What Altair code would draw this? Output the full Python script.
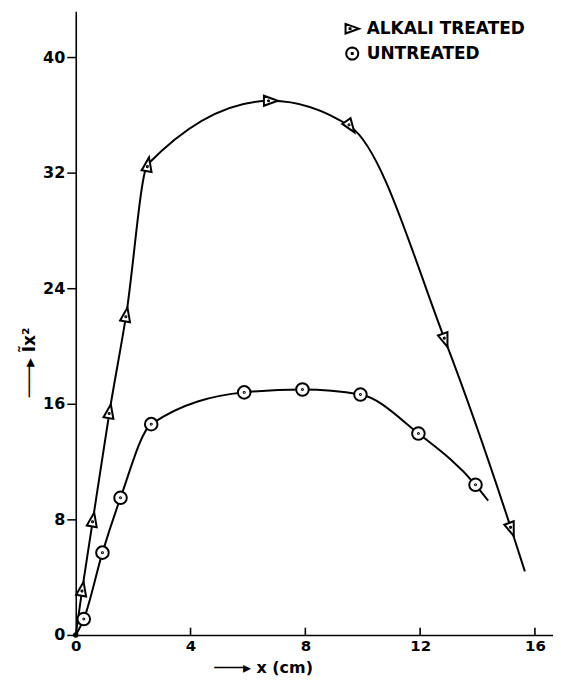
import math
import altair as alt
import pandas as pd

# ---- data ----
series_names = ["ALKALI TREATED", "UNTREATED"]

alkali_x = [0.23, 0.6, 1.18, 1.76, 2.51, 6.8, 9.57, 12.87, 15.18]
alkali_y = [3.2, 8.0, 15.5, 22.2, 32.6, 37.0, 35.2, 20.4, 7.3]

untreated_x = [0.28, 0.93, 1.56, 2.63, 5.87, 7.9, 9.92, 11.94, 13.93]
untreated_y = [1.1, 5.7, 9.5, 14.6, 16.8, 17.0, 16.65, 13.95, 10.4]

# where the drawn curves start and stop (no marker there)
alkali_curve_ends_x = [0.0, 15.65]
alkali_curve_ends_y = [0.0, 4.4]
untreated_curve_ends_x = [0.0, 14.37]
untreated_curve_ends_y = [0.0, 9.3]

x_ticks = [0, 4, 8, 12, 16]
y_ticks = [0, 8, 16, 24, 32, 40]

# ---- tables ----
pts = pd.DataFrame(
    {"x": alkali_x + untreated_x,
     "y": alkali_y + untreated_y,
     "series": [series_names[0]] * len(alkali_x) + [series_names[1]] * len(untreated_x)}
)

line_rows = []
for sx, sy, ex, ey, name in [
    (alkali_x, alkali_y, alkali_curve_ends_x, alkali_curve_ends_y, series_names[0]),
    (untreated_x, untreated_y, untreated_curve_ends_x, untreated_curve_ends_y, series_names[1]),
]:
    xs = [ex[0]] + sx + [ex[1]]
    ys = [ey[0]] + sy + [ey[1]]
    for a, b in zip(xs, ys):
        line_rows.append({"x": a, "y": b, "series": name})
lines_df = pd.DataFrame(line_rows)

tick_df = pd.DataFrame({"t": x_ticks[1:]})
origin_df = pd.DataFrame({"x": [alkali_curve_ends_x[0]], "y": [alkali_curve_ends_y[0]]})

# ---- styling ----
FONT = "DejaVu Sans"
tri_path = ("M -1 -0.72 L 1 0 L -1 0.72 Z "
            "M -0.42 0 A 0.08 0.08 0 1 0 -0.26 0 A 0.08 0.08 0 1 0 -0.42 0")
circ_path = ("M -0.9 0 A 0.9 0.9 0 1 0 0.9 0 A 0.9 0.9 0 1 0 -0.9 0 "
             "M -0.07 0 A 0.07 0.07 0 1 0 0.07 0 A 0.07 0.07 0 1 0 -0.07 0")

# legend symbols drawn with straight segments only
def _poly(r, n):
    p = [(r * math.cos(2 * math.pi * k / n), r * math.sin(2 * math.pi * k / n)) for k in range(n)]
    return "M " + " L ".join(f"{a:.3f} {b:.3f}" for a, b in p) + " Z"

legend_tri = "M -1 -0.72 L 1 0 L -1 0.72 Z M -0.4 -0.07 L -0.26 -0.07 L -0.26 0.07 L -0.4 0.07 Z"
legend_circ = _poly(0.9, 28) + " M -0.07 -0.07 L 0.07 -0.07 L 0.07 0.07 L -0.07 0.07 Z"

xscale = alt.Scale(domain=[0, 16.63], nice=False, zero=False)
yscale = alt.Scale(domain=[0, 43.2], nice=False, zero=False)

xaxis = alt.Axis(
    values=x_ticks, ticks=False, grid=False, labelFlush=False,
    domainColor="black", domainWidth=1.6,
    labelFont=FONT, labelFontSize=15, labelFontWeight="bold", labelColor="black",
    labelPadding=4,
    title="───▸ x (cm)", titleFont=FONT, titleFontSize=16, titleFontWeight="bold",
    titleColor="black", titleX=188, titleY=33, titleAlign="center",
    titleBaseline="middle", titleAnchor="start",
)
yaxis = alt.Axis(
    values=y_ticks, grid=False, tickSize=9, tickColor="black", tickWidth=1.5,
    domainColor="black", domainWidth=1.6,
    labelFont=FONT, labelFontSize=16, labelFontWeight="bold", labelColor="black",
    labelPadding=2,
    title="───▸ Ĩx²", titleFont=FONT, titleFontSize=17, titleFontWeight="bold",
    titleColor="black", titleAngle=270, titleX=-46, titleY=352,
    titleAlign="center", titleBaseline="middle", titleAnchor="start",
)

lines = alt.Chart(lines_df).mark_line(
    interpolate="monotone", color="black", strokeWidth=2
).encode(
    x=alt.X("x:Q", scale=xscale, axis=xaxis),
    y=alt.Y("y:Q", scale=yscale, axis=yaxis),
    detail="series:N",
)

# invisible layer that only carries the legend
legend_layer = alt.Chart(pts).mark_point(
    filled=False, stroke="black", strokeWidth=2, size=180, opacity=0,
).encode(
    x=alt.X("x:Q", scale=xscale),
    y=alt.Y("y:Q", scale=yscale),
    shape=alt.Shape(
        "series:N",
        scale=alt.Scale(domain=series_names, range=[legend_tri, legend_circ]),
        legend=alt.Legend(
            title=None, orient="none", legendX=269, legendY=9, padding=0,
            labelFont=FONT, labelFontSize=17, labelFontWeight="bold", labelColor="black",
            labelOffset=6, rowPadding=5, symbolSize=180,
            symbolFillColor="white", symbolStrokeColor="black", symbolStrokeWidth=2,
            symbolOpacity=1,
        ),
    ),
)

alkali_pts = alt.Chart(pts).transform_filter(
    alt.datum.series == series_names[0]
).transform_calculate(
    ang="datum.x < 4 ? 280 : (datum.x < 8 ? 0 : (datum.x < 11 ? 55 : 70))"
).mark_point(
    shape=tri_path, filled=True, fill="white", stroke="black", strokeWidth=2,
    size=196, opacity=1,
).encode(
    x=alt.X("x:Q", scale=xscale),
    y=alt.Y("y:Q", scale=yscale),
    angle=alt.Angle("ang:Q", scale=None),
)

untreated_pts = alt.Chart(pts).transform_filter(
    alt.datum.series == series_names[1]
).mark_point(
    shape=circ_path, filled=True, fill="white", stroke="black", strokeWidth=2,
    size=196, opacity=1,
).encode(
    x=alt.X("x:Q", scale=xscale),
    y=alt.Y("y:Q", scale=yscale),
)

ticks = alt.Chart(tick_df).mark_rule(color="black", strokeWidth=1.6).encode(
    x=alt.X("t:Q", scale=xscale),
    y=alt.datum(0),
    y2=alt.datum(0.5),
)

origin = alt.Chart(origin_df).mark_circle(color="black", size=30, opacity=1).encode(
    x=alt.X("x:Q", scale=xscale),
    y=alt.Y("y:Q", scale=yscale),
)

chart = alt.layer(lines, ticks, origin, legend_layer, alkali_pts, untreated_pts).properties(
    width=479, height=626,
    padding={"left": 68, "top": 2, "right": 0, "bottom": 45},
    autosize=alt.AutoSizeParams(type="none"),
    background="white",
).configure_view(stroke=None)

chart.save("out.html", embed_options={"renderer": "svg", "actions": False})
